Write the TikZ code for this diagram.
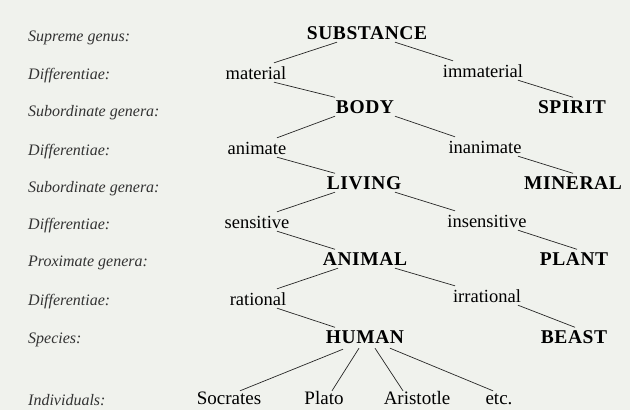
\documentclass[tikz,border=0pt]{standalone}
\usepackage{fontspec}
\setmainfont{Liberation Serif}
\newfontfamily\capsfont[LetterSpace=3]{Liberation Serif}
\definecolor{paper}{RGB}{240,242,237}

\begin{document}
\begin{tikzpicture}[x=1pt,y=-1pt,
		level/.style={anchor=base west,inner sep=0pt,text=black!80,font=\fontsize{16}{18}\selectfont\itshape},
		genus/.style={anchor=base,inner xsep=0pt,inner ysep=3pt,text height=12.5pt,text depth=0pt,font=\capsfont\fontsize{19.5}{21}\selectfont\bfseries},
		diff/.style={anchor=base,inner xsep=0pt,inner ysep=3pt,text height=13pt,text depth=0pt,font=\fontsize{18.5}{20}\selectfont},
		indiv/.style={anchor=base,inner xsep=0pt,inner ysep=1pt,text height=12pt,text depth=0pt,font=\fontsize{19}{21}\selectfont},
		branch/.style={line width=0.7pt,black!85}]
			\fill[paper] (0,0) rectangle (630,410);

			\node[level] (l1) at (28,41) {Supreme genus:};
			\node[level] (l2) at (28,79) {Differentiae:};
			\node[level] (l3) at (28,116) {Subordinate genera:};
			\node[level] (l4) at (28,155) {Differentiae:};
			\node[level] (l5) at (28,192) {Subordinate genera:};
			\node[level] (l6) at (28,229) {Differentiae:};
			\node[level] (l7) at (28,266) {Proximate genera:};
			\node[level] (l8) at (28,305) {Differentiae:};
			\node[level] (l9) at (28,343) {Species:};
			\node[level] (l10) at (28,405) {Individuals:};

			\node[genus] (substance) at (367,39) {SUBSTANCE};
			\node[diff] (material) at (256,79) {material};
			\node[diff] (immaterial) at (483,77) {immaterial};
			\node[genus] (body) at (365,113) {BODY};
			\node[genus] (spirit) at (572,113) {SPIRIT};
			\node[diff] (animate) at (257,154) {animate};
			\node[diff] (inanimate) at (485,153) {inanimate};
			\node[genus] (living) at (364,189) {LIVING};
			\node[genus] (mineral) at (573,189) {MINERAL};
			\node[diff] (sensitive) at (257,228) {sensitive};
			\node[diff] (insensitive) at (487,227) {insensitive};
			\node[genus] (animal) at (365,265) {ANIMAL};
			\node[genus] (plant) at (574,265) {PLANT};
			\node[diff] (rational) at (258,305) {rational};
			\node[diff] (irrational) at (487,302) {irrational};
			\node[genus] (human) at (365,343) {HUMAN};
			\node[genus] (beast) at (574,343) {BEAST};
			\node[indiv] (socrates) at (229,404) {Socrates};
			\node[indiv] (plato) at (324,404) {Plato};
			\node[indiv] (aristotle) at (417,404) {Aristotle};
			\node[indiv] (etc) at (499,404) {etc.};

			\draw[branch] ([xshift=-30pt]substance.south) -- ([xshift=18pt]material.north);
			\draw[branch] ([xshift=28pt]substance.south) -- ([xshift=-30pt]immaterial.north);
			\draw[branch] ([xshift=35pt]immaterial.south) -- ([xshift=1pt]spirit.north);
			\draw[branch] ([xshift=18pt]material.south) -- ([xshift=-30pt]body.north);
			\draw[branch] ([xshift=-30pt]body.south) -- ([xshift=20pt]animate.north);
			\draw[branch] ([xshift=30pt]body.south) -- ([xshift=-30pt]inanimate.north);
			\draw[branch] ([xshift=33pt]inanimate.south) -- (mineral.north);
			\draw[branch] ([xshift=20pt]animate.south) -- ([xshift=-29pt]living.north);
			\draw[branch] ([xshift=-29pt]living.south) -- ([xshift=20pt]sensitive.north);
			\draw[branch] ([xshift=31pt]living.south) -- ([xshift=-32pt]insensitive.north);
			\draw[branch] ([xshift=31pt]insensitive.south) -- ([xshift=3pt]plant.north);
			\draw[branch] ([xshift=20pt]sensitive.south) -- ([xshift=-30pt]animal.north);
			\draw[branch] ([xshift=-27pt]animal.south) -- ([xshift=19pt]rational.north);
			\draw[branch] ([xshift=30pt]animal.south) -- ([xshift=-32pt]irrational.north);
			\draw[branch] ([xshift=31pt]irrational.south) -- ([xshift=1pt]beast.north);
			\draw[branch] ([xshift=19pt]rational.south) -- ([xshift=-30pt]human.north);
			\draw[branch] ([xshift=-22pt,yshift=-3pt]human.south) -- ([xshift=11pt]socrates.north);
			\draw[branch] ([xshift=-6pt,yshift=-2pt]human.south) -- ([xshift=8pt]plato.north);
			\draw[branch] ([xshift=10pt,yshift=-2pt]human.south) -- ([xshift=-14pt]aristotle.north);
			\draw[branch] ([xshift=25pt,yshift=-2pt]human.south) -- ([xshift=-6pt]etc.north);
		\end{tikzpicture}
\end{document}
